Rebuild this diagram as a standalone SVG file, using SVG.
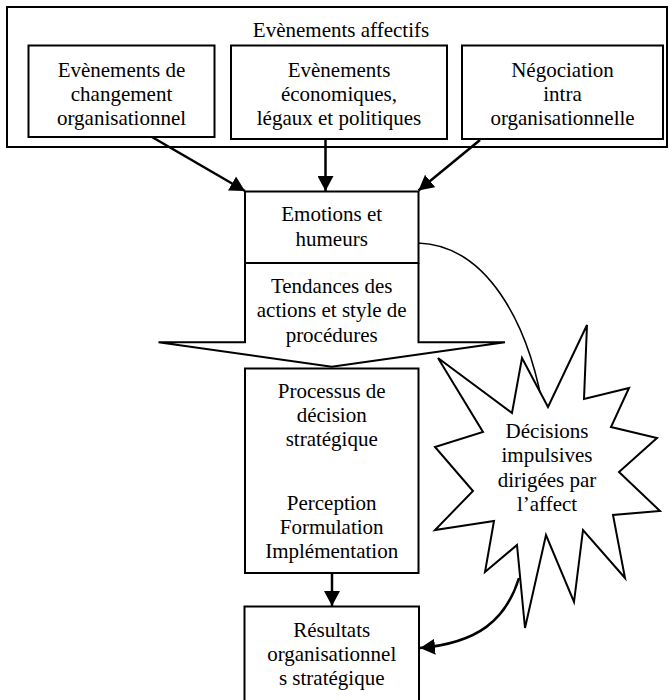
<svg xmlns="http://www.w3.org/2000/svg" width="670" height="700" viewBox="0 0 670 700">
<style>
text{font-family:"Liberation Serif","DejaVu Serif","Noto Serif","Times New Roman",serif;font-size:21px;fill:#000;text-anchor:middle}
.box{fill:#fff;stroke:#000;stroke-width:2}
.conn{fill:none;stroke:#000;stroke-width:2.5}
.thin{fill:none;stroke:#000;stroke-width:1.6}
</style>
<defs>
<marker id="ah" markerUnits="userSpaceOnUse" markerWidth="16" markerHeight="16" refX="15" refY="8" orient="auto">
<path d="M0,0 L15,8 L0,16 z" fill="#000"/>
</marker>
</defs>
<rect width="670" height="700" fill="#fff"/>

<g id="affectifs">
<rect class="box" x="7" y="7" width="660" height="140"/>
<text x="341" y="37" font-family="Liberation Serif, serif">Evènements affectifs</text>
</g>
<g id="changement">
<rect class="box" x="28.5" y="45.5" width="186" height="91.5"/>
<text x="121.5" y="76.5">Evènements de</text>
<text x="121.5" y="100.5">changement</text>
<text x="121.5" y="124.5">organisationnel</text>
</g>
<g id="economiques">
<rect class="box" x="231" y="45.5" width="216" height="93.5"/>
<text x="339" y="76.5">Evènements</text>
<text x="339" y="100.5">économiques,</text>
<text x="339" y="124.5">légaux et politiques</text>
</g>
<g id="negociation">
<rect class="box" x="462" y="45.5" width="201" height="93.5"/>
<text x="562.5" y="76.5">Négociation</text>
<text x="562.5" y="100.5">intra</text>
<text x="562.5" y="124.5">organisationnelle</text>
</g>

<g id="connectors">
<line class="conn" x1="152" y1="137" x2="245" y2="191" marker-end="url(#ah)"/>
<line class="conn" x1="325.5" y1="139" x2="325.5" y2="191" marker-end="url(#ah)"/>
<line class="conn" x1="480" y1="140" x2="418.5" y2="190.5" marker-end="url(#ah)"/>
<line class="conn" x1="332" y1="573" x2="332" y2="606" marker-end="url(#ah)"/>
<path class="thin" d="M418,243 C485,245 530,320 545,420"/>
<path class="conn" d="M519,578 C506,620 478,643 420,648" marker-end="url(#ah)"/>
</g>

<g id="tendances">
<path class="box" d="M245,263 L245,342.3 L158.5,342.3 L331.7,366.8 L505,342.3 L418.5,342.3 L418.5,263"/>
<text x="331.7" y="292.5">Tendances des</text>
<text x="331.7" y="317">actions et style de</text>
<text x="331.7" y="341.5">procédures</text>
</g>
<g id="emotions">
<rect class="box" x="245" y="191.5" width="173.5" height="71.5"/>
<text x="331.7" y="220.5">Emotions et</text>
<text x="331.7" y="245.5">humeurs</text>
</g>
<g id="processus">
<rect class="box" x="245" y="368.5" width="173.5" height="204.5"/>
<text x="331.7" y="397.5">Processus de</text>
<text x="331.7" y="422">décision</text>
<text x="331.7" y="446">stratégique</text>
<text x="331.7" y="509.5">Perception</text>
<text x="331.7" y="533.5">Formulation</text>
<text x="331.7" y="557.5">Implémentation</text>
</g>
<g id="resultats">
<rect class="box" x="244.5" y="606.5" width="174.5" height="100"/>
<text x="331.7" y="636.5">Résultats</text>
<text x="331.7" y="660.5">organisationnel</text>
<text x="331.7" y="684.5">s stratégique</text>
</g>
<g id="decisions">
<polygon fill="#fff" stroke="#000" stroke-width="2" stroke-linejoin="miter" points="438,358 512,413 522,358 548,407 587,325 584,399 629,388 611,427 657,438 619,472 660,511 613,515 625,578 583,530 574,602 546,535 525,628 517,545 485,572 494,521 435,530 473,491 435,447 483,432"/>
<text x="547" y="437.5">Décisions</text>
<text x="547" y="462">impulsives</text>
<text x="547" y="486.5">dirigées par</text>
<text x="547" y="511">l’affect</text>
</g>
</svg>
